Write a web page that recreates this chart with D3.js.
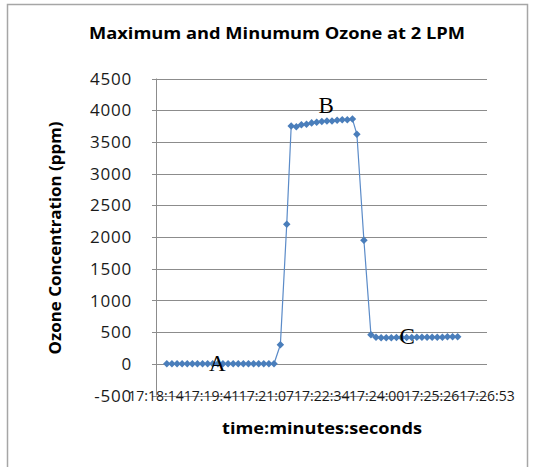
<!DOCTYPE html>
<html>
<head>
    <meta charset="utf-8" />
    <title>Maximum and Minumum Ozone at 2 LPM</title>
    <script src="https://d3js.org/d3.v7.min.js"></script>
    <style>
        body { margin: 0; background: #fff; }
        text { font-family: "Open Sans", sans-serif; }
        text.note { font-family: "Liberation Serif", "Times New Roman", serif; }
    </style>
</head>
<body>
    <svg class="chart"></svg>
    <script>
        // sample times (hh:mm:ss) and ozone readings (ppm)
        var times = [
            "17:18:31","17:18:39","17:18:47","17:18:55","17:19:03","17:19:11","17:19:19","17:19:27",
            "17:19:35","17:19:43","17:19:51","17:19:59","17:20:07","17:20:15","17:20:23","17:20:31",
            "17:20:39","17:20:47","17:20:55","17:21:03","17:21:11","17:21:19",
            "17:21:29","17:21:39",
            "17:21:46","17:21:54","17:22:02","17:22:10","17:22:18","17:22:26","17:22:34","17:22:42",
            "17:22:50","17:22:58","17:23:06","17:23:14","17:23:22",
            "17:23:29","17:23:40","17:23:51",
            "17:23:59","17:24:07","17:24:15","17:24:23","17:24:31","17:24:39","17:24:47","17:24:55",
            "17:25:03","17:25:11","17:25:19","17:25:27","17:25:35","17:25:43","17:25:51","17:25:59","17:26:07"
        ];
        var ozone = [
            0, 0, 0, 0, 0, 0, 0, 0, 0, 0, 0, 0, 0, 0, 0, 0, 0, 0, 0, 0, 0, 0,
            300, 2200,
            3750, 3740, 3770, 3780, 3800, 3810, 3820, 3830, 3830, 3840, 3850, 3850, 3860,
            3620, 1950, 460,
            420, 410, 410, 410, 415, 415, 415, 415, 420, 420, 420, 420, 420, 420, 425, 425, 425
        ];
        var xTickLabels = ["17:18:14","17:19:41","17:21:07","17:22:34","17:24:00","17:25:26","17:26:53"];
        var yTicks = [-500, 0, 500, 1000, 1500, 2000, 2500, 3000, 3500, 4000, 4500];
        var notes = [
            {label: "A", time: "17:19:50", value: 0},
            {label: "B", time: "17:22:41", value: 3860},
            {label: "C", time: "17:24:48", value: 420}
        ];

        var svgWidth = 539, svgHeight = 467;
        var plot = {left: 156, right: 487, top: 78.5, bottom: 395.5};

        var toSec = s => { var p = s.split(":").map(Number); return p[0] * 3600 + p[1] * 60 + p[2]; };
        var data = times.map((t, i) => ({t: toSec(t), v: ozone[i]}));

        var svg = d3.select(".chart")
            .attr("width", svgWidth)
            .attr("height", svgHeight);

        // chart area border
        svg.append("rect")
            .attr("x", 7.5).attr("y", 4.5)
            .attr("width", 520).attr("height", 480)
            .attr("fill", "#fff")
            .attr("stroke", "#a6a6a6")
            .attr("stroke-width", 1.5);

        var xScale = d3.scaleLinear()
            .domain([toSec(xTickLabels[0]), toSec(xTickLabels[xTickLabels.length - 1])])
            .range([plot.left, plot.right]);
        var yScale = d3.scaleLinear()
            .domain([-500, 4500])
            .range([plot.bottom, plot.top]);

        // gridlines
        svg.append("g").selectAll("line")
            .data(yTicks).enter().append("line")
                .attr("x1", plot.left - 4).attr("x2", plot.right)
                .attr("y1", d => Math.round(yScale(d)) + 0.5)
                .attr("y2", d => Math.round(yScale(d)) + 0.5)
                .attr("stroke", "#8c8c8c")
                .attr("stroke-width", 1);

        // vertical axis line
        svg.append("line")
            .attr("x1", plot.left + 0.5).attr("x2", plot.left + 0.5)
            .attr("y1", plot.top).attr("y2", plot.bottom)
            .attr("stroke", "#8c8c8c");

        // y tick labels
        svg.append("g").selectAll("text")
            .data(yTicks).enter().append("text")
                .attr("x", 132)
                .attr("y", d => yScale(d))
                .attr("dy", "0.36em")
                .attr("text-anchor", "end")
                .attr("font-size", 17)
                .attr("letter-spacing", 0.8)
                .attr("fill", "#1a1a1a")
                .text(d => d);

        // x tick labels (they overlap, as in the original)
        svg.append("g").selectAll("text")
            .data(xTickLabels).enter().append("text")
                .attr("x", d => xScale(toSec(d)))
                .attr("y", plot.bottom)
                .attr("dy", "0.36em")
                .attr("text-anchor", "middle")
                .attr("font-size", 14)
                .attr("fill", "#1a1a1a")
                .text(d => d);

        // series
        var line = d3.line()
            .x(d => xScale(d.t))
            .y(d => yScale(d.v));

        svg.append("path")
            .datum(data)
            .attr("fill", "none")
            .attr("stroke", "#5b8bc8")
            .attr("stroke-width", 1.2)
            .attr("d", line);

        svg.append("g").selectAll("path")
            .data(data).enter().append("path")
                .attr("transform", d => "translate(" + xScale(d.t) + "," + yScale(d.v) + ")")
                .attr("d", d3.symbol(d3.symbolDiamond2, 36))
                .attr("fill", "#4a7ebb");

        // A / B / C annotations
        svg.append("g").selectAll("text")
            .data(notes).enter().append("text")
                .attr("class", "note")
                .attr("x", d => xScale(toSec(d.time)))
                .attr("y", (d, i) => yScale(d.value) + [7, -6, 7][i])
                .attr("text-anchor", "middle")
                .attr("font-size", 23)
                .attr("fill", "#000")
                .text(d => d.label);

        // titles
        svg.append("text")
            .attr("x", 277).attr("y", 39)
            .attr("text-anchor", "middle")
            .attr("font-size", 15.5)
            .attr("font-weight", "bold")
            .attr("fill", "#000")
            .attr("textLength", 376)
            .attr("lengthAdjust", "spacingAndGlyphs")
            .text("Maximum and Minumum Ozone at 2 LPM");

        svg.append("text")
            .attr("transform", "translate(61,238) rotate(-90)")
            .attr("text-anchor", "middle")
            .attr("font-size", 15.5)
            .attr("font-weight", "bold")
            .attr("fill", "#000")
            .attr("textLength", 233)
            .attr("lengthAdjust", "spacingAndGlyphs")
            .text("Ozone Concentration (ppm)");

        svg.append("text")
            .attr("x", 322).attr("y", 434)
            .attr("text-anchor", "middle")
            .attr("font-size", 15.5)
            .attr("font-weight", "bold")
            .attr("fill", "#000")
            .attr("textLength", 200)
            .attr("lengthAdjust", "spacingAndGlyphs")
            .text("time:minutes:seconds");
    </script>
</body>
</html>
